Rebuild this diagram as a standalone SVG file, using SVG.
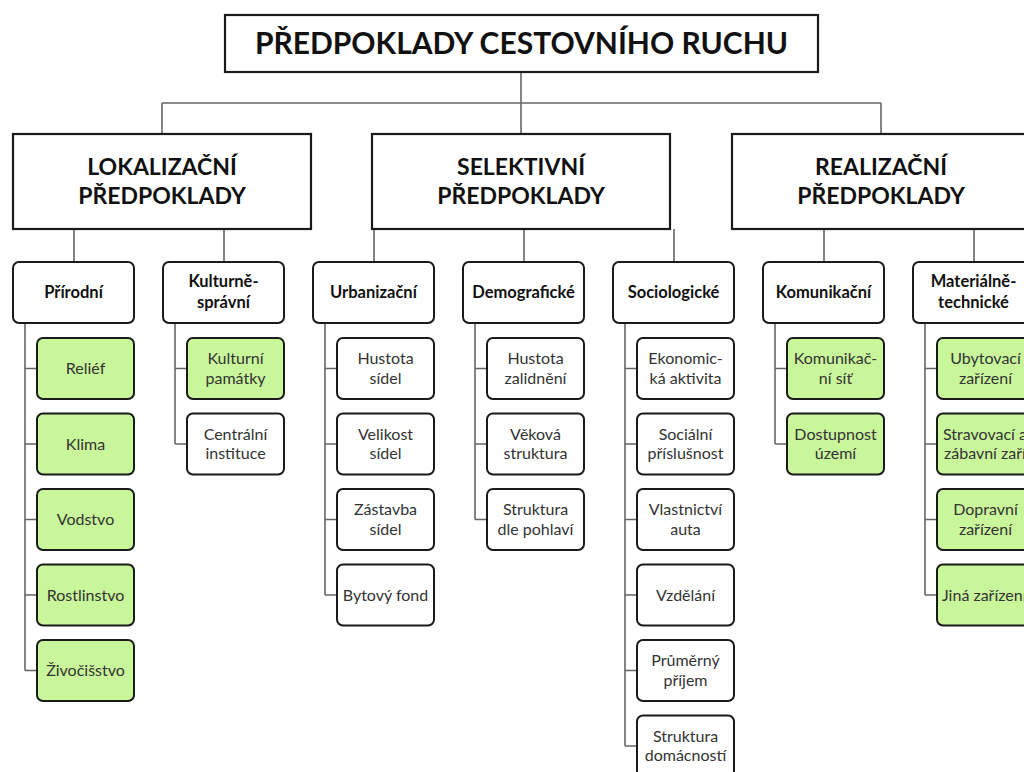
<svg xmlns="http://www.w3.org/2000/svg" width="1024" height="772" viewBox="0 0 1024 772">
<style>
.bg{fill:#ffffff}
.cn{fill:none;stroke:#666;stroke-width:1.6}
.top{fill:#fff;stroke:#1a1a1a;stroke-width:2.2}
.sub{fill:#fff;stroke:#1a1a1a;stroke-width:2;rx:6;ry:6}
.lw{fill:#fff;stroke:#1a1a1a;stroke-width:2;rx:6;ry:6}
.lg{fill:#c9f59b;stroke:#1a1a1a;stroke-width:2;rx:6;ry:6}
.t0{font-family:Lato,"Open Sans",sans-serif;font-weight:bold;font-size:30px;fill:#111;text-anchor:middle}
.t1{font-family:Lato,"Open Sans",sans-serif;font-weight:bold;font-size:23px;fill:#111;text-anchor:middle}
.t2{font-family:Lato,"Open Sans",sans-serif;font-weight:bold;font-size:16.5px;fill:#111;text-anchor:middle}
.t3{font-family:Lato,"Open Sans",sans-serif;font-size:16px;fill:#333;text-anchor:middle}
</style>
<rect class="bg" x="0" y="0" width="1024" height="772"/>

<g id="connectors">
  <path class="cn" d="M521,72 V134 M162,103 H881 M162,103 V134 M881,103 V134"/>
  <path class="cn" d="M74,229 V262 M224,229 V262 M374,229 V262 M524,229 V262 M674,229 V262 M824,229 V262 M974,229 V262"/>
  <path class="cn" d="M25,323 V670.5 M25,368.5 H37 M25,444 H37 M25,519.5 H37 M25,595 H37 M25,670.5 H37"/>
  <path class="cn" d="M175,323 V444 M175,368.5 H187 M175,444 H187"/>
  <path class="cn" d="M325,323 V595 M325,368.5 H337 M325,444 H337 M325,519.5 H337 M325,595 H337"/>
  <path class="cn" d="M475,323 V519.5 M475,368.5 H487 M475,444 H487 M475,519.5 H487"/>
  <path class="cn" d="M625,323 V746 M625,368.5 H637 M625,444 H637 M625,519.5 H637 M625,595 H637 M625,670.5 H637 M625,746 H637"/>
  <path class="cn" d="M775,323 V444 M775,368.5 H787 M775,444 H787"/>
  <path class="cn" d="M925,323 V595 M925,368.5 H937 M925,444 H937 M925,519.5 H937 M925,595 H937"/>
</g>

<g id="title">
  <rect class="top" x="225" y="15" width="593" height="57"/>
  <text class="t0" x="521.5" y="54">PŘEDPOKLADY CESTOVNÍHO RUCHU</text>
</g>

<g id="cat-lokalizacni">
  <rect class="top" x="13" y="134" width="298" height="95"/>
  <text class="t1" x="162" y="175">LOKALIZAČNÍ</text>
  <text class="t1" x="162" y="204">PŘEDPOKLADY</text>
</g>
<g id="cat-selektivni">
  <rect class="top" x="372" y="134" width="298" height="95"/>
  <text class="t1" x="521" y="175">SELEKTIVNÍ</text>
  <text class="t1" x="521" y="204">PŘEDPOKLADY</text>
</g>
<g id="cat-realizacni">
  <rect class="top" x="732" y="134" width="298" height="95"/>
  <text class="t1" x="881" y="175">REALIZAČNÍ</text>
  <text class="t1" x="881" y="204">PŘEDPOKLADY</text>
</g>

<g id="sub-prirodni">
  <rect class="sub" x="13" y="262" width="121" height="61"/>
  <text class="t2" x="73.5" y="298">Přírodní</text>
</g>
<g id="sub-kulturne">
  <rect class="sub" x="163" y="262" width="121" height="61"/>
  <text class="t2" x="223.5" y="287">Kulturně-</text>
  <text class="t2" x="223.5" y="308">správní</text>
</g>
<g id="sub-urbanizacni">
  <rect class="sub" x="313" y="262" width="121" height="61"/>
  <text class="t2" x="373.5" y="298">Urbanizační</text>
</g>
<g id="sub-demograficke">
  <rect class="sub" x="463" y="262" width="121" height="61"/>
  <text class="t2" x="523.5" y="298">Demografické</text>
</g>
<g id="sub-sociologicke">
  <rect class="sub" x="613" y="262" width="121" height="61"/>
  <text class="t2" x="673.5" y="298">Sociologické</text>
</g>
<g id="sub-komunikacni">
  <rect class="sub" x="763" y="262" width="121" height="61"/>
  <text class="t2" x="823.5" y="298">Komunikační</text>
</g>
<g id="sub-materialne">
  <rect class="sub" x="913" y="262" width="121" height="61"/>
  <text class="t2" x="973.5" y="287">Materiálně-</text>
  <text class="t2" x="973.5" y="308">technické</text>
</g>

<!-- Přírodní leaves -->
<g id="leaf-relief"><rect class="lg" x="37" y="338" width="97" height="61"/><text class="t3" x="85.5" y="374">Reliéf</text></g>
<g id="leaf-klima"><rect class="lg" x="37" y="413.5" width="97" height="61"/><text class="t3" x="85.5" y="449.5">Klima</text></g>
<g id="leaf-vodstvo"><rect class="lg" x="37" y="489" width="97" height="61"/><text class="t3" x="85.5" y="525">Vodstvo</text></g>
<g id="leaf-rostlinstvo"><rect class="lg" x="37" y="564.5" width="97" height="61"/><text class="t3" x="85.5" y="600.5">Rostlinstvo</text></g>
<g id="leaf-zivocisstvo"><rect class="lg" x="37" y="640" width="97" height="61"/><text class="t3" x="85.5" y="676">Živočišstvo</text></g>

<!-- Kulturně-správní leaves -->
<g id="leaf-kulturni-pamatky"><rect class="lg" x="187" y="338" width="97" height="61"/><text class="t3" x="235.5" y="364">Kulturní</text><text class="t3" x="235.5" y="383.5">památky</text></g>
<g id="leaf-centralni-instituce"><rect class="lw" x="187" y="413.5" width="97" height="61"/><text class="t3" x="235.5" y="439.5">Centrální</text><text class="t3" x="235.5" y="459">instituce</text></g>

<!-- Urbanizační leaves -->
<g id="leaf-hustota-sidel"><rect class="lw" x="337" y="338" width="97" height="61"/><text class="t3" x="385.5" y="364">Hustota</text><text class="t3" x="385.5" y="383.5">sídel</text></g>
<g id="leaf-velikost-sidel"><rect class="lw" x="337" y="413.5" width="97" height="61"/><text class="t3" x="385.5" y="439.5">Velikost</text><text class="t3" x="385.5" y="459">sídel</text></g>
<g id="leaf-zastavba-sidel"><rect class="lw" x="337" y="489" width="97" height="61"/><text class="t3" x="385.5" y="515">Zástavba</text><text class="t3" x="385.5" y="534.5">sídel</text></g>
<g id="leaf-bytovy-fond"><rect class="lw" x="337" y="564.5" width="97" height="61"/><text class="t3" x="385.5" y="600.5">Bytový fond</text></g>

<!-- Demografické leaves -->
<g id="leaf-hustota-zalidneni"><rect class="lw" x="487" y="338" width="97" height="61"/><text class="t3" x="535.5" y="364">Hustota</text><text class="t3" x="535.5" y="383.5">zalidnění</text></g>
<g id="leaf-vekova-struktura"><rect class="lw" x="487" y="413.5" width="97" height="61"/><text class="t3" x="535.5" y="439.5">Věková</text><text class="t3" x="535.5" y="459">struktura</text></g>
<g id="leaf-struktura-pohlavi"><rect class="lw" x="487" y="489" width="97" height="61"/><text class="t3" x="535.5" y="515">Struktura</text><text class="t3" x="535.5" y="534.5">dle pohlaví</text></g>

<!-- Sociologické leaves -->
<g id="leaf-ekonomicka"><rect class="lw" x="637" y="338" width="97" height="61"/><text class="t3" x="685.5" y="364">Ekonomic-</text><text class="t3" x="685.5" y="383.5">ká aktivita</text></g>
<g id="leaf-socialni"><rect class="lw" x="637" y="413.5" width="97" height="61"/><text class="t3" x="685.5" y="439.5">Sociální</text><text class="t3" x="685.5" y="459">příslušnost</text></g>
<g id="leaf-vlastnictvi"><rect class="lw" x="637" y="489" width="97" height="61"/><text class="t3" x="685.5" y="515">Vlastnictví</text><text class="t3" x="685.5" y="534.5">auta</text></g>
<g id="leaf-vzdelani"><rect class="lw" x="637" y="564.5" width="97" height="61"/><text class="t3" x="685.5" y="600.5">Vzdělání</text></g>
<g id="leaf-prijem"><rect class="lw" x="637" y="640" width="97" height="61"/><text class="t3" x="685.5" y="666">Průměrný</text><text class="t3" x="685.5" y="685.5">příjem</text></g>
<g id="leaf-domacnosti"><rect class="lw" x="637" y="715.5" width="97" height="61"/><text class="t3" x="685.5" y="741.5">Struktura</text><text class="t3" x="685.5" y="761">domácností</text></g>

<!-- Komunikační leaves -->
<g id="leaf-komunikacni-sit"><rect class="lg" x="787" y="338" width="97" height="61"/><text class="t3" x="835.5" y="364">Komunikač-</text><text class="t3" x="835.5" y="383.5">ní síť</text></g>
<g id="leaf-dostupnost"><rect class="lg" x="787" y="413.5" width="97" height="61"/><text class="t3" x="835.5" y="439.5">Dostupnost</text><text class="t3" x="835.5" y="459">území</text></g>

<!-- Materiálně-technické leaves -->
<g id="leaf-ubytovaci"><rect class="lg" x="937" y="338" width="97" height="61"/><text class="t3" x="985.5" y="364">Ubytovací</text><text class="t3" x="985.5" y="383.5">zařízení</text></g>
<g id="leaf-stravovaci"><rect class="lg" x="937" y="413.5" width="97" height="61"/><text class="t3" x="943" y="439.5" style="text-anchor:start">Stravovací a</text><text class="t3" x="944" y="459" style="text-anchor:start">zábavní zařízení</text></g>
<g id="leaf-dopravni"><rect class="lg" x="937" y="489" width="97" height="61"/><text class="t3" x="985.5" y="515">Dopravní</text><text class="t3" x="985.5" y="534.5">zařízení</text></g>
<g id="leaf-jina"><rect class="lg" x="937" y="564.5" width="97" height="61"/><text class="t3" x="942" y="600.5" style="text-anchor:start">Jiná zařízení</text></g>
</svg>
